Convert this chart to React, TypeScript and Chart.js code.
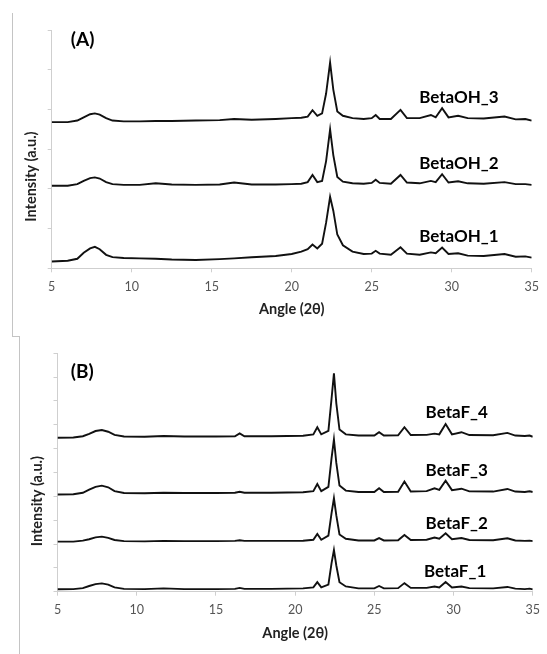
import React, { useEffect, useRef } from "react";
import { Chart, registerables } from "chart.js";

Chart.register(...registerables);

// ---------- Panel (A) data ----------
const A_ANGLES = [
  5, 6, 6.6, 7.0, 7.4, 7.7, 8.0, 8.4, 8.8, 9.5, 10.5, 11.5, 12.5, 14, 15.5, 16.4, 17.5, 19, 20, 20.6,
  21.0, 21.3, 21.6, 21.9, 22.15, 22.4, 22.6, 22.85, 23.2, 23.8, 24.5, 25.0, 25.25, 25.5, 26.2, 26.8,
  27.2, 28.0, 28.7, 29.0, 29.4, 29.8, 30.4, 31.0, 32.0, 33.3, 34.0, 34.6, 35,
];
const BETAOH_1 = [
  0.17, 0.19, 0.24, 0.39, 0.5, 0.54, 0.48, 0.34, 0.28, 0.26, 0.25, 0.24, 0.22, 0.21, 0.23, 0.25, 0.28, 0.31, 0.36, 0.42,
  0.48, 0.6, 0.5, 0.62, 1.15, 1.8, 1.45, 0.85, 0.58, 0.42, 0.36, 0.37, 0.44, 0.37, 0.34, 0.53,
  0.37, 0.34, 0.4, 0.38, 0.52, 0.36, 0.38, 0.32, 0.31, 0.36, 0.29, 0.3, 0.27,
];
const BETAOH_2 = [
  2.08, 2.08, 2.12, 2.2, 2.27, 2.29, 2.26, 2.17, 2.12, 2.1, 2.1, 2.14, 2.11, 2.1, 2.11, 2.16, 2.11, 2.11, 2.12, 2.13,
  2.17, 2.35, 2.17, 2.2, 2.7, 3.5, 2.85, 2.3, 2.18, 2.14, 2.13, 2.15, 2.23, 2.15, 2.13, 2.35,
  2.16, 2.14, 2.2, 2.17, 2.37, 2.16, 2.19, 2.14, 2.13, 2.17, 2.12, 2.12, 2.1,
];
const BETAOH_3 = [
  3.68, 3.68, 3.72, 3.8, 3.88, 3.9, 3.87, 3.78, 3.72, 3.7, 3.7, 3.71, 3.71, 3.72, 3.73, 3.76, 3.74, 3.76, 3.78, 3.79,
  3.82, 3.98, 3.84, 3.9, 4.4, 5.18, 4.5, 3.95, 3.84, 3.78, 3.76, 3.78, 3.86, 3.76, 3.76, 3.99,
  3.78, 3.78, 3.86, 3.8, 4.03, 3.8, 3.84, 3.78, 3.77, 3.82, 3.75, 3.76, 3.72,
];
const A_NAMES = ["BetaOH_1", "BetaOH_2", "BetaOH_3"];
const A_LABEL_X = [30.45, 30.45, 30.45];
const A_LABEL_Y = [0.79, 2.65, 4.29];

// ---------- Panel (B) data ----------
const B_ANGLES = [
  5, 6, 6.6, 7.0, 7.4, 7.8, 8.2, 8.6, 9.2, 10.5, 11.7, 13, 15, 16.2, 16.5, 16.8, 18.5, 20.5, 21.15, 21.4,
  21.65, 22.1, 22.3, 22.45, 22.6, 22.8, 23.2, 24.0, 25.0, 25.3, 25.6, 26.5, 26.9, 27.3, 28.3, 28.8,
  29.1, 29.5, 29.9, 30.5, 31.0, 32.5, 33.4, 33.9, 34.5, 34.8, 35,
];
const BETAF_1 = [
  0.1, 0.11, 0.15, 0.24, 0.32, 0.35, 0.3, 0.18, 0.12, 0.11, 0.14, 0.11, 0.11, 0.12, 0.16, 0.12, 0.12, 0.14, 0.18, 0.4,
  0.18, 0.3, 1.2, 1.75, 1.1, 0.4, 0.22, 0.14, 0.14, 0.24, 0.14, 0.15, 0.36, 0.16, 0.16, 0.22,
  0.18, 0.41, 0.18, 0.22, 0.15, 0.14, 0.2, 0.13, 0.11, 0.13, 0.1,
];
const BETAF_2 = [
  2.1, 2.1, 2.14, 2.2, 2.28, 2.31, 2.26, 2.17, 2.12, 2.11, 2.13, 2.12, 2.12, 2.13, 2.16, 2.13, 2.13, 2.14, 2.18, 2.42,
  2.18, 2.35, 3.3, 3.92, 3.2, 2.4, 2.22, 2.15, 2.15, 2.25, 2.15, 2.16, 2.38, 2.17, 2.18, 2.27,
  2.22, 2.45, 2.2, 2.25, 2.17, 2.16, 2.24, 2.15, 2.13, 2.14, 2.12,
];
const BETAF_3 = [
  4.08, 4.09, 4.15, 4.28, 4.4, 4.45, 4.38, 4.22, 4.14, 4.13, 4.15, 4.14, 4.14, 4.15, 4.19, 4.15, 4.15, 4.17, 4.22, 4.52,
  4.22, 4.4, 5.6, 6.39, 5.4, 4.45, 4.24, 4.18, 4.18, 4.34, 4.18, 4.19, 4.62, 4.2, 4.22, 4.34,
  4.27, 4.66, 4.26, 4.32, 4.21, 4.2, 4.31, 4.2, 4.18, 4.21, 4.18,
];
const BETAF_4 = [
  6.46, 6.47, 6.52, 6.62, 6.74, 6.78, 6.71, 6.58, 6.51, 6.5, 6.53, 6.51, 6.51, 6.52, 6.64, 6.52, 6.52, 6.54, 6.6, 6.9,
  6.6, 6.75, 8.1, 9.16, 7.9, 6.8, 6.6, 6.55, 6.55, 6.69, 6.55, 6.56, 6.9, 6.57, 6.58, 6.63,
  6.6, 7.03, 6.6, 6.69, 6.57, 6.56, 6.66, 6.55, 6.53, 6.55, 6.5,
];
const B_NAMES = ["BetaF_1", "BetaF_2", "BetaF_3", "BetaF_4"];
const B_LABEL_X = [30.1, 30.2, 30.2, 30.2];
const B_LABEL_Y = [0.86, 2.88, 5.1, 7.5];

// ---------- shared ----------
const X_MIN = 5;
const X_MAX = 35;
const X_STEP = 5;
const X_TITLE = "Angle (2θ)";
const Y_TITLE = "Intensity (a.u.)";

const FONT = "Lato, 'Open Sans', sans-serif";
const AXIS_COLOR = "#cfcfcf";
const LINE_COLOR = "#111";

const annotatePlugin = {
  id: "annotate",
  afterDatasetsDraw(chart: any, _args: any, opts: any) {
    const { ctx, chartArea } = chart;
    const x = chart.scales.x;
    const y = chart.scales.y;
    ctx.save();
    ctx.textAlign = "center";
    ctx.textBaseline = "middle";
    ctx.fillStyle = "#000";
    ctx.font = `bold 17px ${FONT}`;
    opts.labels.forEach((l: any) => {
      ctx.fillText(l.text, x.getPixelForValue(l.x), y.getPixelForValue(l.y));
    });
    ctx.font = `bold 19px ${FONT}`;
    ctx.fillText(opts.tag.text, x.getPixelForValue(opts.tag.x), y.getPixelForValue(opts.tag.y));
    ctx.translate(chartArea.left - opts.yTitleOffset, y.getPixelForValue(opts.yTitleY));
    ctx.rotate(-Math.PI / 2);
    ctx.font = `bold 14.5px ${FONT}`;
    ctx.fillStyle = "#222";
    ctx.fillText(Y_TITLE, 0, 0);
    ctx.restore();
  },
};

type PanelSpec = {
  angles: number[];
  series: number[][];
  names: string[];
  labelX: number[];
  labelY: number[];
  yMax: number;
  tag: { text: string; x: number; y: number };
  yTitleY: number;
  yTitleOffset: number;
  canvasH: number;
  plotLeft: number;
  plotRight: number;
  plotTop: number;
  plotBottom: number;
};

function makeConfig(p: PanelSpec): any {
  return {
    type: "line",
    data: {
      datasets: p.series.map((vals, si) => ({
        label: p.names[si],
        data: p.angles.map((a, i) => ({ x: a, y: vals[i] })),
        borderColor: LINE_COLOR,
        borderWidth: 1.9,
        pointRadius: 0,
        tension: 0,
        fill: false,
      })),
    },
    options: {
      responsive: false,
      maintainAspectRatio: false,
      animation: false,
      events: [],
      layout: {
        padding: { left: 0, right: 547 - p.plotRight, top: p.plotTop, bottom: 0 },
      },
      plugins: {
        legend: { display: false },
        tooltip: { enabled: false },
        annotate: {
          labels: p.names.map((n, i) => ({ text: n, x: p.labelX[i], y: p.labelY[i] })),
          tag: p.tag,
          yTitleY: p.yTitleY,
          yTitleOffset: p.yTitleOffset,
        },
      },
      scales: {
        x: {
          type: "linear",
          min: X_MIN,
          max: X_MAX,
          ticks: {
            stepSize: X_STEP,
            color: "#555",
            font: { family: FONT, size: 12.5 },
            padding: 7,
          },
          grid: { drawOnChartArea: false, drawTicks: true, tickLength: 4, color: AXIS_COLOR },
          border: { display: true, color: AXIS_COLOR, width: 1 },
          title: {
            display: true,
            text: X_TITLE,
            color: "#222",
            font: { family: FONT, size: 14.5, weight: "bold" },
            padding: { top: 0, bottom: 12 },
          },
          afterFit: (s: any) => {
            s.height = p.canvasH - p.plotBottom;
          },
        },
        y: {
          min: 0,
          max: p.yMax,
          ticks: { display: false, stepSize: 1 },
          grid: { drawOnChartArea: false, drawTicks: true, tickLength: 4, color: AXIS_COLOR },
          border: { display: true, color: AXIS_COLOR, width: 1 },
          afterFit: (s: any) => {
            s.width = p.plotLeft;
          },
        },
      },
    },
    plugins: [annotatePlugin],
  };
}

function Panel({ spec, top }: { spec: PanelSpec; top: number }) {
  const ref = useRef<HTMLCanvasElement>(null);
  useEffect(() => {
    const chart = new Chart(ref.current as HTMLCanvasElement, makeConfig(spec));
    return () => chart.destroy();
  }, []);
  return (
    <canvas
      ref={ref}
      width={547}
      height={spec.canvasH}
      style={{ position: "absolute", left: 0, top, width: 547, height: spec.canvasH }}
    />
  );
}

const PANEL_A: PanelSpec = {
  angles: A_ANGLES,
  series: [BETAOH_1, BETAOH_2, BETAOH_3],
  names: A_NAMES,
  labelX: A_LABEL_X,
  labelY: A_LABEL_Y,
  yMax: 6,
  tag: { text: "(A)", x: 6.93, y: 5.74 },
  yTitleY: 2.31,
  yTitleOffset: 20,
  canvasH: 330,
  plotLeft: 51.7,
  plotRight: 531.7,
  plotTop: 30,
  plotBottom: 268.3,
};

const PANEL_B: PanelSpec = {
  angles: B_ANGLES,
  series: [BETAF_1, BETAF_2, BETAF_3, BETAF_4],
  names: B_NAMES,
  labelX: B_LABEL_X,
  labelY: B_LABEL_Y,
  yMax: 10,
  tag: { text: "(B)", x: 6.56, y: 9.24 },
  yTitleY: 3.8,
  yTitleOffset: 20,
  canvasH: 324,
  plotLeft: 57.5,
  plotRight: 537.5,
  plotTop: 23.3,
  plotBottom: 261.7,
};

export default function App() {
  const frame = "1px solid #c4c4c4";
  return (
    <div
      style={{
        position: "absolute",
        left: 0,
        top: 0,
        width: 547,
        height: 654,
        background: "#fff",
        overflow: "hidden",
      }}
    >
      <Panel spec={PANEL_A} top={0} />
      <Panel spec={PANEL_B} top={330} />
      <div style={{ position: "absolute", left: 12, top: 13, height: 324, borderLeft: frame }} />
      <div style={{ position: "absolute", left: 12, top: 336, width: 7, borderTop: frame }} />
      <div style={{ position: "absolute", left: 19, top: 336, height: 318, borderLeft: frame }} />
    </div>
  );
}
